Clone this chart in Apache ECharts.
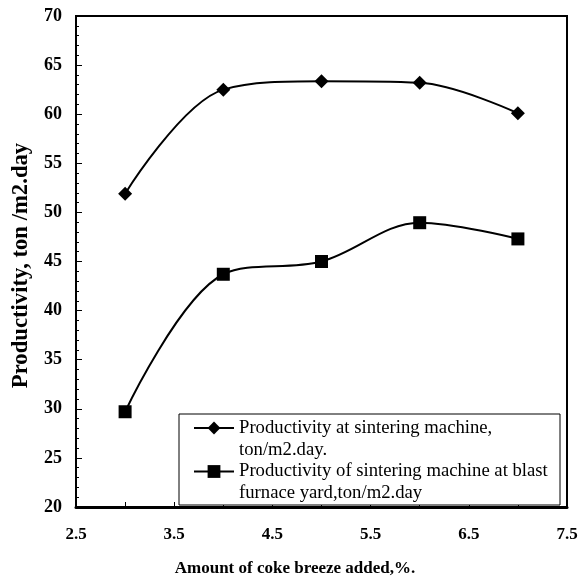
<!DOCTYPE html>
<html>
<head>
<meta charset="utf-8">
<script src="https://cdn.jsdelivr.net/npm/echarts@6/dist/echarts.min.js"></script>
<style>html,body{margin:0;padding:0;background:#fff}#c{width:581px;height:583px}</style>
</head>
<body>
<div id="c"></div>
<script>
var coke = [3, 4, 5, 6, 7];
var machine = [51.9, 62.5, 63.35, 63.2, 60.1];
var yard = [29.7, 43.7, 45.0, 48.95, 47.3];
var seriesNames = ['Productivity at sintering machine,\nton/m2.day.', 'Productivity of sintering machine at blast\nfurnace yard,ton/m2.day'];
var xTitle = 'Amount of coke breeze added,%.';
var yTitle = 'Productivity, ton /m2.day';

function pairs(xs, ys) { return xs.map(function (x, i) { return [x, ys[i]]; }); }

var chart = echarts.init(document.getElementById('c'), null, {renderer: 'canvas'});
var font = '"Liberation Serif", "Times New Roman", serif';
chart.setOption({
  animation: false,
  backgroundColor: '#fff',
  grid: {left: 76, right: 14, top: 16, bottom: 76, show: true, borderColor: '#000', borderWidth: 2, backgroundColor: 'transparent'},
  xAxis: {
    type: 'value', min: 2.5, max: 7.5, interval: 0.5,
    name: xTitle, nameLocation: 'middle', nameGap: 53,
    nameTextStyle: {fontFamily: font, fontWeight: 'bold', fontSize: 17, color: '#000', padding: [0, 53, 0, 0]},
    axisLine: {show: true, onZero: false, lineStyle: {color: '#000', width: 3}},
    axisTick: {show: true, inside: true, length: 5, lineStyle: {color: '#000', width: 1}},
    axisLabel: {fontFamily: font, fontWeight: 'bold', fontSize: 17, color: '#000', margin: 19,
      formatter: function (v) { return (Math.round((v - 2.5) * 10) % 10 === 0) ? v.toFixed(1) : ''; }},
    splitLine: {show: false}
  },
  yAxis: {
    type: 'value', min: 20, max: 70, interval: 5,
    name: yTitle, nameLocation: 'middle', nameGap: 41, nameRotate: 90,
    nameTextStyle: {fontFamily: font, fontWeight: 'bold', fontSize: 22.7, color: '#000', padding: [0, 8, 0, 0]},
    axisLine: {show: true, lineStyle: {color: '#000', width: 2}},
    axisTick: {show: true, inside: true, length: 6, lineStyle: {color: '#000', width: 1}},
    minorTick: {show: true, splitNumber: 5, length: 3, lineStyle: {color: '#000', width: 1}},
    axisLabel: {fontFamily: font, fontWeight: 'bold', fontSize: 18, color: '#000', margin: 14},
    splitLine: {show: false}
  },
  graphic: [{
    type: 'rect', shape: {x: 179, y: 414, width: 381, height: 91}, z: 3,
    style: {fill: '#fff', stroke: '#000', lineWidth: 1}
  }],
  legend: {
    orient: 'vertical', left: 193, top: 395, padding: 0, itemGap: -21, z: 5,
    itemWidth: 40, itemHeight: 16,
    formatter: function (name) {
      var p = name.split('\n');
      return '{s| }\n{t|' + p[0] + '}\n{t|' + p[1] + '}';
    },
    textStyle: {
      fontFamily: font, fontSize: 18.7, color: '#000',
      rich: {
        s: {fontFamily: font, fontSize: 18.7, lineHeight: 22, height: 22},
        t: {fontFamily: font, fontSize: 18.7, lineHeight: 22, color: '#000'}
      }
    },
    data: seriesNames
  },
  series: [{
    name: seriesNames[0], type: 'line', data: pairs(coke, machine), smooth: 0.35,
    symbol: 'diamond', symbolSize: 14,
    lineStyle: {color: '#000', width: 2}, itemStyle: {color: '#000'}
  }, {
    name: seriesNames[1], type: 'line', data: pairs(coke, yard), smooth: 0.35,
    symbol: 'rect', symbolSize: 13,
    lineStyle: {color: '#000', width: 2}, itemStyle: {color: '#000'}
  }]
});
</script>
</body>
</html>
